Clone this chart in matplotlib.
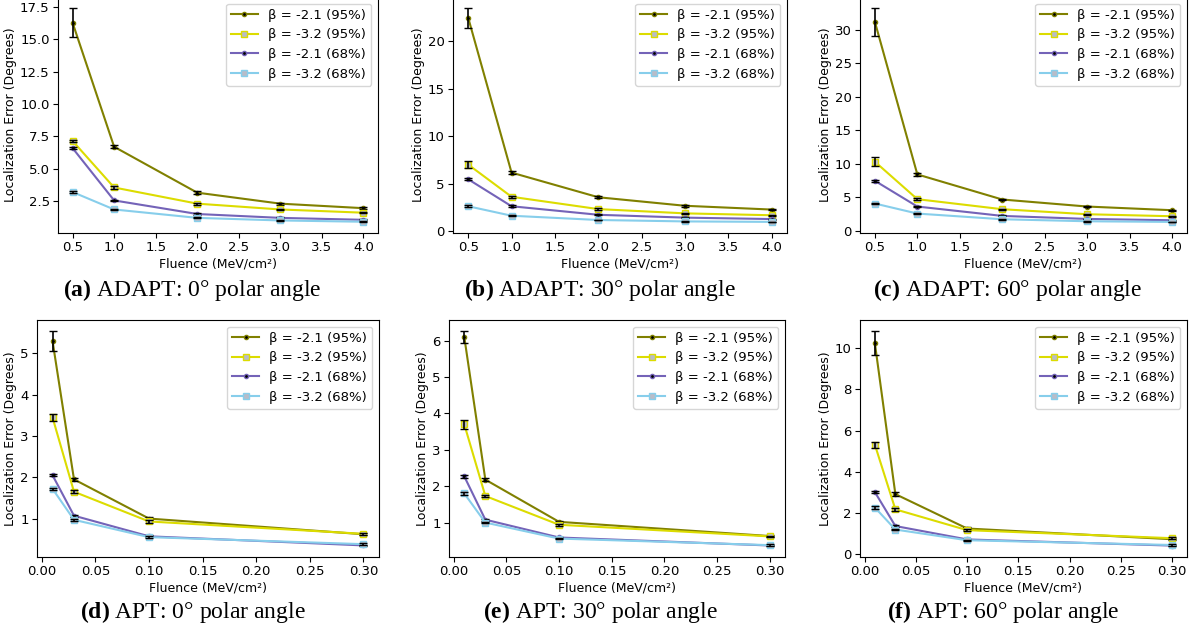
import numpy as np
import matplotlib.pyplot as plt

plt.rcParams['mathtext.fontset'] = 'custom'
plt.rcParams['mathtext.rm'] = 'Liberation Serif'
plt.rcParams['mathtext.bf'] = 'Liberation Serif:bold'

# fluence values
x_adapt = [0.5, 1.0, 2.0, 3.0, 4.0]
x_apt = [0.01, 0.03, 0.1, 0.3]

labels = ['β = -2.1 (95%)', 'β = -3.2 (95%)', 'β = -2.1 (68%)', 'β = -3.2 (68%)']

# ADAPT 0 deg
a_21_95 = [16.3, 6.7, 3.15, 2.3, 1.95]
a_32_95 = [7.15, 3.55, 2.3, 1.85, 1.6]
a_21_68 = [6.6, 2.55, 1.5, 1.2, 1.05]
a_32_68 = [3.2, 1.85, 1.2, 1.0, 0.9]
a_err = [[1.15, 0.1, 0.1, 0.08, 0.07],
         [0.1, 0.08, 0.07, 0.06, 0.05],
         [0.08, 0.07, 0.05, 0.05, 0.05],
         [0.08, 0.05, 0.04, 0.04, 0.04]]

# ADAPT 30 deg
b_21_95 = [22.5, 6.15, 3.55, 2.65, 2.25]
b_32_95 = [7.0, 3.6, 2.3, 1.85, 1.65]
b_21_68 = [5.45, 2.6, 1.7, 1.4, 1.25]
b_32_68 = [2.6, 1.6, 1.15, 1.0, 0.95]
b_err = [[1.05, 0.15, 0.1, 0.08, 0.07],
         [0.35, 0.12, 0.08, 0.07, 0.06],
         [0.1, 0.08, 0.06, 0.05, 0.05],
         [0.08, 0.06, 0.05, 0.04, 0.04]]

# ADAPT 60 deg
c_21_95 = [31.2, 8.4, 4.65, 3.6, 3.05]
c_32_95 = [10.3, 4.7, 3.2, 2.45, 2.15]
c_21_68 = [7.45, 3.6, 2.2, 1.75, 1.55]
c_32_68 = [4.05, 2.55, 1.7, 1.4, 1.3]
c_err = [[2.1, 0.2, 0.12, 0.1, 0.08],
         [0.7, 0.15, 0.1, 0.08, 0.07],
         [0.15, 0.1, 0.07, 0.06, 0.05],
         [0.1, 0.08, 0.06, 0.05, 0.05]]

# APT 0 deg
d_21_95 = [5.3, 1.95, 1.0, 0.62]
d_32_95 = [3.45, 1.65, 0.93, 0.63]
d_21_68 = [2.05, 1.07, 0.57, 0.35]
d_32_68 = [1.72, 0.97, 0.55, 0.38]
d_err = [[0.25, 0.04, 0.03, 0.02],
         [0.08, 0.04, 0.03, 0.02],
         [0.03, 0.02, 0.02, 0.02],
         [0.03, 0.02, 0.02, 0.02]]

# APT 30 deg
e_21_95 = [6.1, 2.18, 1.02, 0.63]
e_32_95 = [3.7, 1.73, 0.94, 0.62]
e_21_68 = [2.27, 1.08, 0.59, 0.37]
e_32_68 = [1.8, 1.0, 0.56, 0.38]
e_err = [[0.17, 0.05, 0.03, 0.02],
         [0.12, 0.04, 0.03, 0.02],
         [0.04, 0.03, 0.02, 0.02],
         [0.03, 0.02, 0.02, 0.02]]

# APT 60 deg
f_21_95 = [10.25, 2.92, 1.25, 0.73]
f_32_95 = [5.32, 2.18, 1.17, 0.78]
f_21_68 = [3.02, 1.37, 0.72, 0.42]
f_32_68 = [2.27, 1.2, 0.68, 0.45]
f_err = [[0.6, 0.1, 0.05, 0.04],
         [0.15, 0.07, 0.05, 0.04],
         [0.07, 0.05, 0.03, 0.03],
         [0.05, 0.04, 0.03, 0.03]]

colors = ['#808000', '#dcdc00', '#7463b8', '#87ceeb']
markers = ['.', 's', '.', 's']
mfcs = ['black', '#b8bcc8', 'black', '#b8bcc8']

W, H = 1201, 637
fig = plt.figure(figsize=(W / 100, H / 100), dpi=100)


def px_axes(l, t, r, b):
    return fig.add_axes([l / W, 1 - b / H, (r - l) / W, (b - t) / H])


panels = [
    (x_adapt, [a_21_95, a_32_95, a_21_68, a_32_68], a_err, (58, -3, 378, 233)),
    (x_adapt, [b_21_95, b_32_95, b_21_68, b_32_68], b_err, (453, -3, 787, 233)),
    (x_adapt, [c_21_95, c_32_95, c_21_68, c_32_68], c_err, (860, -3, 1187, 233)),
    (x_apt, [d_21_95, d_32_95, d_21_68, d_32_68], d_err, (37, 320, 379, 557)),
    (x_apt, [e_21_95, e_32_95, e_21_68, e_32_68], e_err, (449, 320, 785, 557)),
    (x_apt, [f_21_95, f_32_95, f_21_68, f_32_68], f_err, (860, 320, 1187, 557)),
]

for x, series, errs, box in panels:
    ax = px_axes(*box)
    for i in range(4):
        ax.plot(x, series[i], marker=markers[i], color=colors[i], mfc=mfcs[i],
                ms=5 if markers[i] == 's' else 6, lw=1.5, label=labels[i])
        ax.errorbar(x, series[i], yerr=errs[i], fmt='none', ecolor='black',
                    capsize=3, elinewidth=1.2)
    ax.set_xlabel('Fluence (MeV/cm²)', fontsize=9, labelpad=2)
    ax.set_ylabel('Localization Error (Degrees)', fontsize=9, labelpad=2)
    ax.tick_params(labelsize=9.5, length=3.5, pad=2.5)
    ax.legend(loc='upper right', fontsize=9.5)

captions = [
    (r'$\mathbf{(a)}$ ADAPT: 0° polar angle', 192, 290),
    (r'$\mathbf{(b)}$ ADAPT: 30° polar angle', 600, 290),
    (r'$\mathbf{(c)}$ ADAPT: 60° polar angle', 1008, 290),
    (r'$\mathbf{(d)}$ APT: 0° polar angle', 193, 612),
    (r'$\mathbf{(e)}$ APT: 30° polar angle', 600, 612),
    (r'$\mathbf{(f)}$ APT: 60° polar angle', 1003, 612),
]
for txt, cx, cy in captions:
    fig.text(cx / W, 1 - cy / H, txt, ha='center', va='center',
             fontsize=17, family='Liberation Serif')

plt.savefig('out.png', dpi=100)
